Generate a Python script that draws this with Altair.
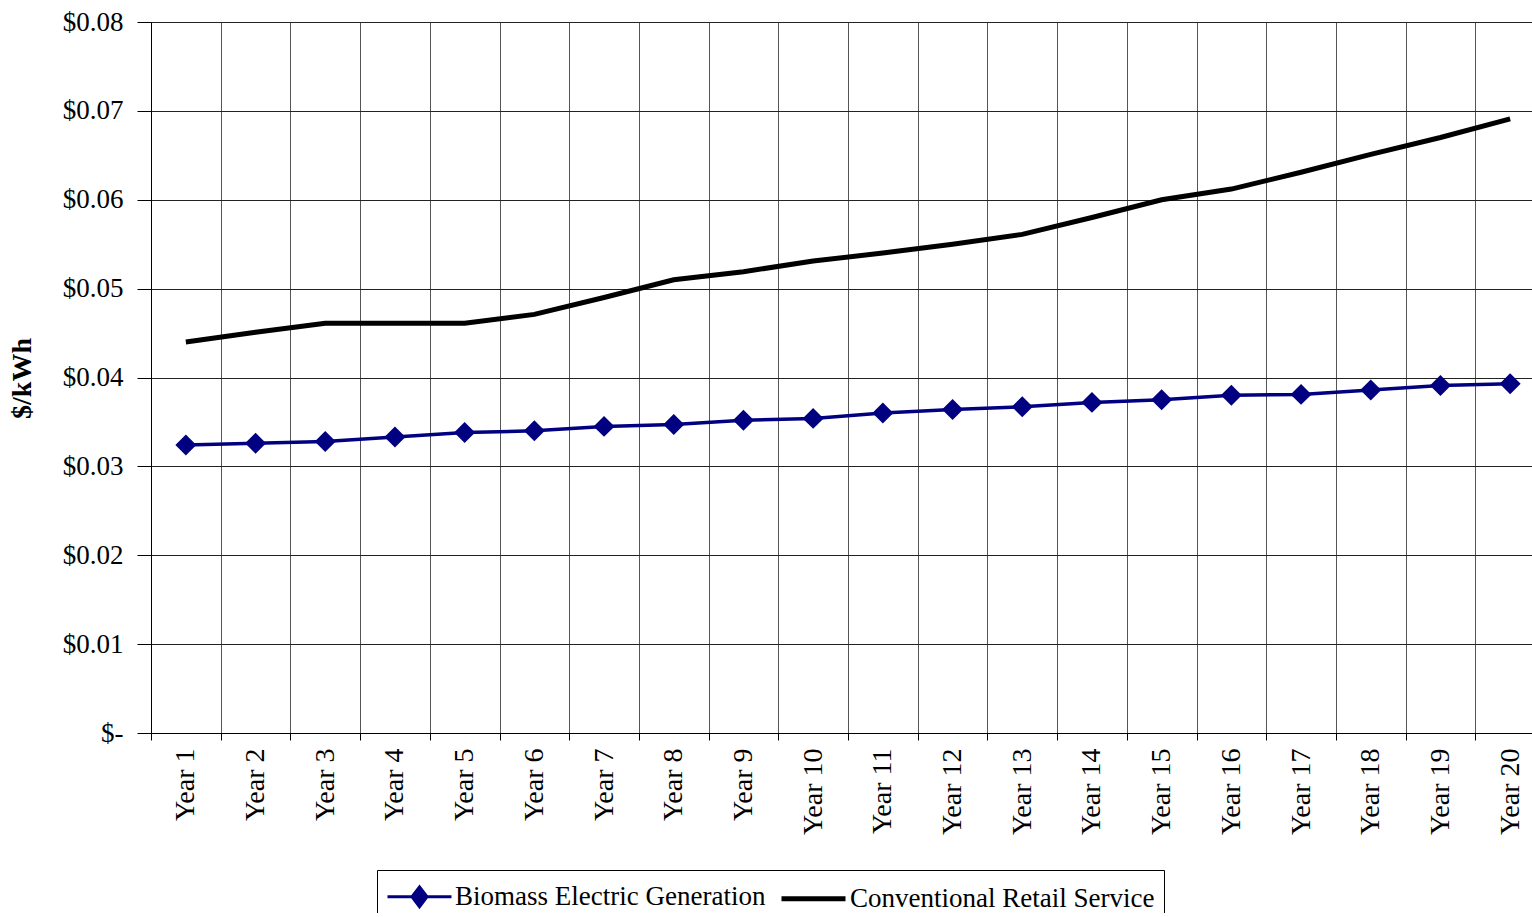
import altair as alt
import pandas as pd

years = ["Year 1", "Year 2", "Year 3", "Year 4", "Year 5", "Year 6", "Year 7",
         "Year 8", "Year 9", "Year 10", "Year 11", "Year 12", "Year 13", "Year 14",
         "Year 15", "Year 16", "Year 17", "Year 18", "Year 19", "Year 20"]
biomass = [0.0324, 0.0326, 0.0328, 0.0333, 0.0338, 0.0340, 0.0345, 0.0347, 0.0352, 0.0354,
           0.0360, 0.0364, 0.0367, 0.0372, 0.0375, 0.0380, 0.0381, 0.0386, 0.0391, 0.0393]
conventional = [0.0440, 0.0451, 0.0461, 0.0461, 0.0461, 0.0471, 0.0490, 0.0510, 0.0519, 0.0531,
                0.0540, 0.0550, 0.0561, 0.0580, 0.0600, 0.0612, 0.0631, 0.0651, 0.0670, 0.0691]
series_names = ["Biomass Electric Generation", "Conventional Retail Service"]
series_colors = ["#000080", "#000000"]
series_widths = [3.5, 5]
y_ticks = [0, 0.01, 0.02, 0.03, 0.04, 0.05, 0.06, 0.07, 0.08]

rows = []
for name, vals in zip(series_names, [biomass, conventional]):
    for yr, v in zip(years, vals):
        rows.append({"year": yr, "value": v, "series": name})
df = pd.DataFrame(rows)

FONT = "Liberation Serif"

# legend symbol paths (line + filled-looking diamond, and thick plain line)
path_b = ("M-2,0H2M0,-0.62L0.47,0L0,0.62L-0.47,0Z"
          "M0,-0.4L0.3,0L0,0.4L-0.3,0ZM0,-0.18L0.14,0L0,0.18L-0.14,0Z")
path_c = "M-2,0H2"

x_enc = alt.X(
    "year:N", sort=years,
    scale=alt.Scale(type="band", paddingInner=0, paddingOuter=0, range=[0, 1394]),
    axis=alt.Axis(title=None, labelAngle=-90, labelFont=FONT, labelFontSize=28,
                  labelColor="black", tickBand="extent", tickSize=7, tickColor="black",
                  domainColor="black", grid=True, gridColor="#555555", labelPadding=8),
)
y_enc = alt.Y(
    "value:Q",
    scale=alt.Scale(domain=[0, 0.08], nice=False),
    axis=alt.Axis(values=y_ticks,
                  labelExpr="datum.value == 0 ? '$-' : '$' + format(datum.value, '.2f')",
                  labelFont=FONT, labelFontSize=27, labelColor="black",
                  tickSize=14, tickColor="black", labelPadding=14,
                  domainColor="black", grid=True, gridColor="#222222",
                  title="$/kWh", titleFont=FONT, titleFontSize=28, titleFontWeight="bold",
                  titleColor="black", titleX=-129, titleY=356, titleAngle=270,
                  titleAlign="center", titleBaseline="middle"),
)

base = alt.Chart(df)

line_b = base.transform_filter(alt.datum.series == series_names[0]).mark_line(
    color=series_colors[0], strokeWidth=series_widths[0]
).encode(x=x_enc, y=y_enc)

line_c = base.transform_filter(alt.datum.series == series_names[1]).mark_line(
    color=series_colors[1], strokeWidth=series_widths[1]
).encode(x=alt.X("year:N", sort=years), y=alt.Y("value:Q"))

points = base.transform_filter(alt.datum.series == series_names[0]).mark_point(
    shape="diamond", filled=True, size=440, opacity=1, color=series_colors[0]
).encode(x=alt.X("year:N", sort=years), y=alt.Y("value:Q"))

# invisible layer that only carries the legend
legend_layer = base.mark_point(filled=False, size=1024).encode(
    x=alt.X("year:N", sort=years),
    y=alt.Y("value:Q"),
    color=alt.Color(
        "series:N",
        scale=alt.Scale(domain=series_names, range=series_colors),
        legend=alt.Legend(
            title=None, orient="none", legendX=226, legendY=848, direction="horizontal",
            strokeColor="black", fillColor="white", padding=9,
            labelFont=FONT, labelFontSize=27, labelColor="black", labelLimit=0,
            symbolSize=1024, symbolOffset=16, labelOffset=18, columnPadding=5,
            symbolOpacity=1,
        ),
    ),
    shape=alt.Shape("series:N", scale=alt.Scale(domain=series_names, range=[path_b, path_c])),
    strokeWidth=alt.StrokeWidth("series:N", scale=alt.Scale(domain=series_names, range=[3, 5])),
    opacity=alt.condition("datum.value > -1", alt.value(0), alt.value(1)),
)

chart = alt.layer(line_b, line_c, points, legend_layer).properties(
    width=1381, height=711,
    autosize=alt.AutoSizeParams(type="none"),
    padding={"left": 151, "top": 22, "right": 0, "bottom": 180},
).configure_view(stroke=None).configure(background="white")

chart.save("out.html", embed_options={"renderer": "svg", "actions": False})
